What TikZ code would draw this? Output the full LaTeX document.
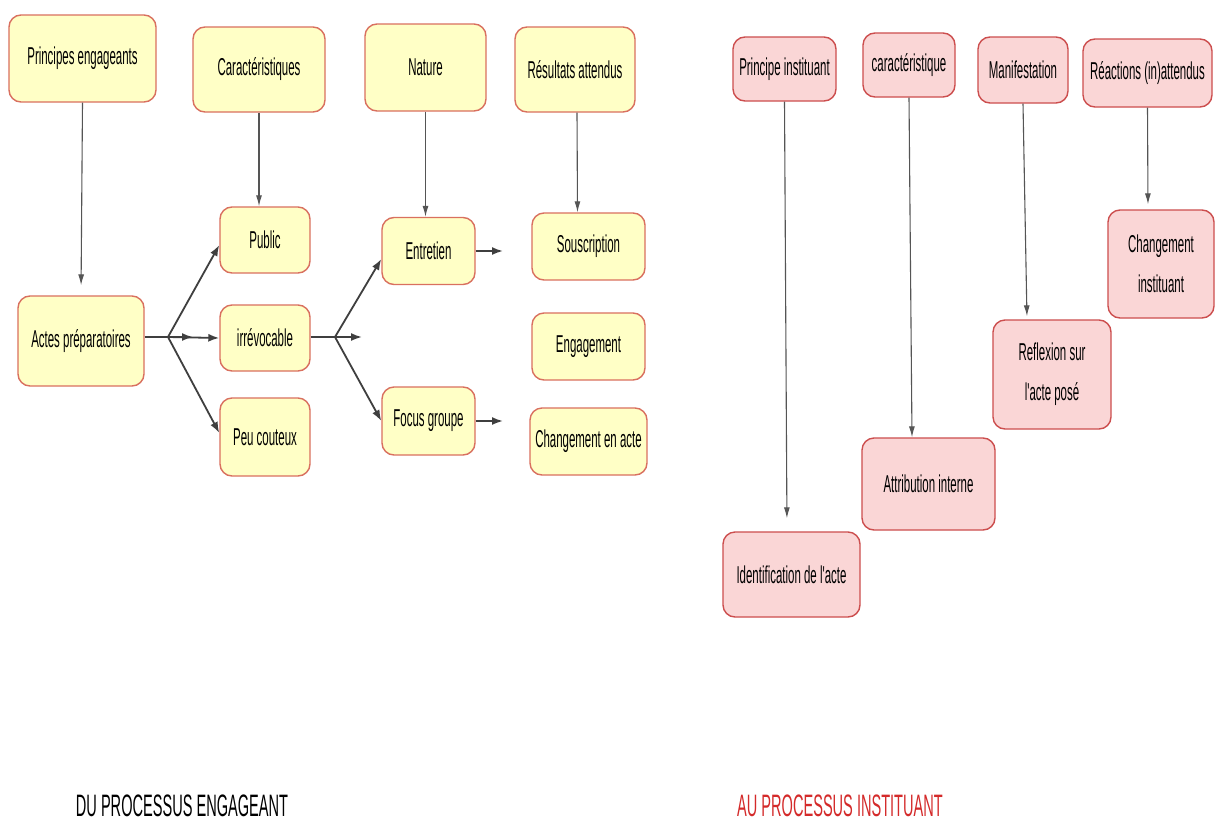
\documentclass[tikz,border=0pt]{standalone}
\usepackage{fontspec}
\usetikzlibrary{arrows.meta,calc}
\newfontfamily\bxfam[FakeStretch=0.47]{Liberation Sans}
\newcommand{\bxfont}{\bxfam\fontsize{24.4}{40}\selectfont}
\newcommand{\ttlfont}{\bxfam\fontsize{31}{34}\selectfont}
\definecolor{yelfill}{HTML}{FFFFC6}
\definecolor{yelline}{HTML}{D9705F}
\definecolor{pinkfill}{HTML}{FAD6D6}
\definecolor{pinkline}{HTML}{CC4E4E}
\definecolor{arrgray}{HTML}{555555}
\definecolor{arrdark}{HTML}{3F3F3F}
\definecolor{titlered}{HTML}{D42A2A}
\tikzset{
  bx/.style={draw, line width=1.4pt, rounded corners=12pt, inner sep=0pt, align=center, font=\bxfont, text=black},
  ybox/.style={bx, fill=yelfill, draw=yelline},
  pbox/.style={bx, fill=pinkfill, draw=pinkline},
  vline/.style={draw=arrgray, line width=1.1pt, -{Latex[length=11pt,width=6pt]}},
  fline/.style={draw=arrdark, line width=1.8pt, -{Latex[length=11pt,width=8pt]}},
  fplain/.style={draw=arrdark, line width=1.8pt},
  ttl/.style={font=\ttlfont, inner sep=0pt}
}
\begin{document}
\begin{tikzpicture}[x=1pt,y=-1pt]
\useasboundingbox[fill=white] (0,0) rectangle (1215,830);
% left: yellow
\node[ybox, minimum width=147pt, minimum height=87pt] (p1) at (82.5,58.5) {Principes engageants};
\node[ybox, minimum width=132pt, minimum height=85pt] (p2) at (259,69.5) {Caractéristiques};
\node[ybox, minimum width=121pt, minimum height=87pt] (p3) at (425.5,67.5) {Nature};
\node[ybox, minimum width=120pt, minimum height=85pt] (p4) at (575,69.5) {Résultats attendus};
\node[ybox, minimum width=126pt, minimum height=90pt] (actes) at (81,341) {Actes préparatoires};
\node[ybox, minimum width=90pt, minimum height=66pt] (public) at (265,240) {Public};
\node[ybox, minimum width=90pt, minimum height=66pt] (irrev) at (265,338) {irrévocable};
\node[ybox, minimum width=90pt, minimum height=78pt] (peu) at (265,437) {Peu couteux};
\node[ybox, minimum width=93pt, minimum height=67pt] (entretien) at (428.5,251) {Entretien};
\node[ybox, minimum width=93pt, minimum height=68pt] (focus) at (428.5,421) {Focus groupe};
\node[ybox, minimum width=113pt, minimum height=67pt] (sous) at (588.5,246.5) {Souscription};
\node[ybox, minimum width=113pt, minimum height=67pt] (engag) at (588.5,346.5) {Engagement};
\node[ybox, minimum width=117pt, minimum height=67pt] (chg) at (588.5,441.5) {Changement en acte};
% right: pink
\node[pbox, minimum width=103pt, minimum height=64pt] (pi) at (784.5,69) {Principe instituant};
\node[pbox, minimum width=92pt, minimum height=64pt] (ca) at (909,65) {caractéristique};
\node[pbox, minimum width=90pt, minimum height=66pt] (ma) at (1023,70) {Manifestation};
\node[pbox, minimum width=129pt, minimum height=68pt] (re) at (1147.5,73) {Réactions (in)attendus};
\node[pbox, minimum width=106pt, minimum height=108pt] (ci) at (1161,264) {Changement\\instituant};
\node[pbox, minimum width=118pt, minimum height=109pt] (rf) at (1052,374.5) {Reflexion sur\\l'acte posé};
\node[pbox, minimum width=133pt, minimum height=92pt] (at) at (928.5,484) {Attribution interne};
\node[pbox, minimum width=137pt, minimum height=85pt] (id) at (791.5,574.5) {Identification de l'acte};
% titles
\node[ttl, text=black] (t1) at (182,806) {DU PROCESSUS ENGAGEANT};
\node[ttl, text=titlered] (t2) at (840,806) {AU PROCESSUS INSTITUANT};
% coordinates
\coordinate (f1) at (168,337);
\coordinate (m1) at (193,337);
\coordinate (f2) at (335,337);
\coordinate (m2) at (362,337);
\coordinate (e1) at (503,251);
\coordinate (e2) at (503,421);
% left connectors
\draw[vline, shorten >=10pt] (p1.south) -- (actes.north);
\draw[vline] (p2.south) -- (p2.south |- public.north);
\draw[vline] (p3.south) -- (p3.south |- entretien.north);
\draw[vline] ([xshift=2pt]p4.south) -- ([xshift=-11pt]sous.north);
\draw[fplain] (actes.east |- f1) -- (f1);
\draw[fline] (f1) -- ([yshift=-5pt]public.west);
\draw[fline] (f1) -- (irrev.west);
\draw[fline] (f1) -- ([yshift=4pt]peu.west);
\draw[fline] (f1) -- (m1);
\draw[fplain] (irrev.east |- f2) -- (f2);
\draw[fline] (f2) -- ([yshift=-8pt]entretien.west);
\draw[fline] (f2) -- (focus.west);
\draw[fline] (f2) -- (m2);
\draw[fline] (entretien.east) -- (e1);
\draw[fline] (focus.east) -- (e2);
% right connectors
\draw[vline, shorten >=13pt] (pi.south) -- ([xshift=-4.5pt]id.north);
\draw[vline] (ca.south) -- ([xshift=-16.5pt]at.north);
\draw[vline, shorten >=3pt] (ma.south) -- ([xshift=-25pt]rf.north);
\draw[vline, shorten >=5pt] (re.south) -- ([xshift=-13pt]ci.north);
\end{tikzpicture}
\end{document}
